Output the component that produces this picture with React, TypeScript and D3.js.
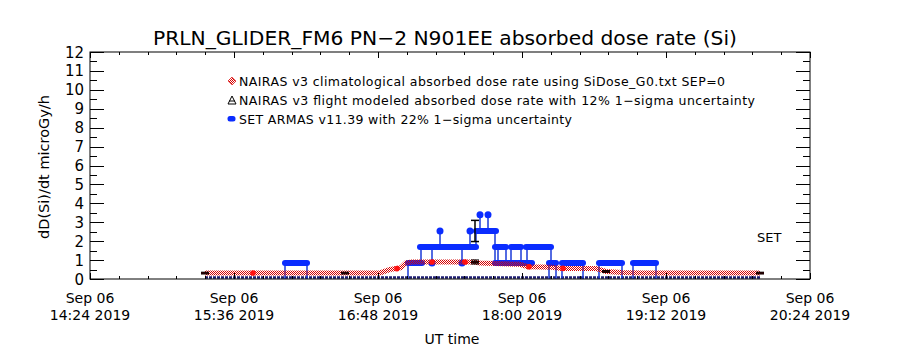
import * as d3 from "d3";

const DAY = "2019-09-06";
const TITLE = "PRLN_GLIDER_FM6 PN\u22122 N901EE absorbed dose rate (Si)";
const Y_LABEL = "dD(Si)/dt microGy/h";
const X_LABEL = "UT time";
const Y_TICKS = [0, 1, 2, 3, 4, 5, 6, 7, 8, 9, 10, 11, 12];
const X_TICKS = ["14:24", "15:36", "16:48", "18:00", "19:12", "20:24"];
const LEGEND = [
  "NAIRAS v3 climatological absorbed dose rate using SiDose_G0.txt SEP=0",
  "NAIRAS v3 flight modeled absorbed dose rate with 12% 1\u2212sigma uncertainty",
  "SET ARMAS v11.39 with 22% 1\u2212sigma uncertainty",
];
const LEGEND_WIDTHS = [486, 516, 333];

// NAIRAS climatological (checkered red band)
const climTimes = ["15:21:30", "16:49:00", "16:54:00", "16:59:30", "17:02:00", "17:05:00", "17:36:00", "17:39:00", "17:46:00", "17:59:00", "18:03:00", "18:15:00", "18:20:00", "18:37:00", "18:42:00", "18:50:00", "19:00:00", "19:59:00"];
const climValues = [0.32, 0.32, 0.5, 0.6, 0.85, 0.9, 0.9, 0.85, 0.82, 0.78, 0.65, 0.62, 0.56, 0.55, 0.4, 0.35, 0.32, 0.32];
const climDotTimes = ["15:45:30", "16:57:30", "17:15:00", "17:31:30", "18:03:30", "18:20:30"];
const climDotValues = [0.32, 0.55, 0.9, 0.9, 0.65, 0.56];

// NAIRAS flight modeled
const modelTimes = ["15:21:30", "16:31:30", "17:36:30", "18:42:00", "19:59:00"];
const modelValues = [0.32, 0.32, 0.9, 0.4, 0.32];

// SET ARMAS
const setStart = ["16:01:30", "17:03:00", "17:09:00", "17:37:00", "17:46:30", "17:54:30", "18:02:00", "17:46:30", "17:58:00", "18:13:30", "18:20:00", "18:38:30", "18:55:30"];
const setEnd = ["16:12:30", "17:10:00", "17:37:00", "17:47:00", "17:52:00", "17:59:30", "18:14:30", "17:57:30", "18:05:00", "18:17:00", "18:30:30", "18:50:00", "19:07:00"];
const setValues = [0.85, 0.85, 1.69, 2.54, 1.69, 1.69, 1.69, 0.85, 0.85, 0.85, 0.85, 0.85, 0.85];
const setDotTimes = ["17:15:00", "17:19:00", "17:30:00", "17:34:00", "17:39:00", "17:43:00"];
const setDotValues = [0.85, 2.54, 0.85, 2.54, 3.39, 3.39];
const setLinkTimes = ["16:01:30", "16:12:30", "17:03:00", "17:09:30", "17:15:00", "17:19:00", "17:30:00", "17:34:00", "17:37:00", "17:39:00", "17:43:00", "17:46:30", "17:48:00", "17:52:00", "17:54:30", "17:59:30", "18:02:30", "18:14:30", "18:13:30", "18:17:00", "18:20:00", "18:30:30", "18:38:30", "18:50:00", "18:55:30", "19:07:00"];
const setLinkFrom = [0.85, 0.85, 0.85, 1.69, 1.69, 2.54, 1.69, 2.54, 2.54, 3.39, 3.39, 2.54, 1.69, 1.69, 1.69, 1.69, 1.69, 1.69, 0.85, 0.85, 0.85, 0.85, 0.85, 0.85, 0.85, 0.85];
const setLinkTo = [0, 0, 0, 0.85, 0.85, 1.69, 0.85, 1.69, 1.69, 2.54, 2.54, 0.85, 0.85, 0.85, 0.85, 0.85, 0.85, 0.85, 0, 0, 0, 0, 0, 0, 0, 0];
const setErrTime = "17:36:30";
const setErrValue = 2.54;
const setErrSigma = 0.56;
const setBaseStart = "15:21:30";
const setBaseEnd = "19:59:00";

const parse = d3.utcParse("%Y-%m-%d %H:%M:%S");
const t = (s: string) => parse(`${DAY} ${s.length === 5 ? s + ":00" : s}`)!;

const LEFT = 90;
const RIGHT = 810;
const TOP = 52;
const BOTTOM = 279;
const FONT = "DejaVu Sans, sans-serif";
const RED = "#d80000";
const BLUE = "#0a2cff";

export default function App() {
  const x = d3.scaleUtc().domain([t("14:24"), t("20:24")]).range([LEFT, RIGHT]);
  const y = d3.scaleLinear().domain([0, 12]).range([BOTTOM, TOP]);

  const step = (x.domain()[1].getTime() - x.domain()[0].getTime()) / 25;
  const minorX = d3.range(0, 26).map((i) => x(new Date(x.domain()[0].getTime() + i * step)));
  const majorX = X_TICKS.map((s) => x(t(s)));
  const minorY = d3.range(0, 12.01, 0.5);

  const climLine = d3
    .line<number>()
    .x((i) => x(t(climTimes[i])))
    .y((i) => y(climValues[i]))(d3.range(climTimes.length));

  return (
    <div style={{ position: "absolute", left: 0, top: 0 }}>
      <svg width={900} height={350} style={{ background: "#fff", display: "block" }} fontFamily={FONT}>
        <defs>
          <pattern id="checker" width={2} height={2} patternUnits="userSpaceOnUse">
            <rect x={0} y={0} width={1} height={1} fill={RED} />
            <rect x={1} y={1} width={1} height={1} fill={RED} />
          </pattern>
        </defs>

        {/* title */}
        <text x={445} y={45} textAnchor="middle" fontSize={20} textLength={584} lengthAdjust="spacingAndGlyphs">
          {TITLE}
        </text>

        {/* SET ARMAS baseline */}
        <line
          x1={x(t(setBaseStart))}
          x2={x(t(setBaseEnd))}
          y1={y(0) - 1.5}
          y2={y(0) - 1.5}
          stroke="#1c1c70"
          strokeWidth={2.5}
          strokeDasharray="3 1"
        />

        {/* SET ARMAS links */}
        {setLinkTimes.map((s, i) => (
          <line
            key={"l" + i}
            x1={x(t(s))}
            x2={x(t(s))}
            y1={y(setLinkFrom[i])}
            y2={y(setLinkTo[i])}
            stroke="#1a3ad8"
            strokeWidth={1.5}
          />
        ))}

        {/* SET ARMAS segments */}
        {setStart.map((s, i) => (
          <line
            key={"s" + i}
            x1={x(t(s))}
            x2={x(t(setEnd[i]))}
            y1={y(setValues[i])}
            y2={y(setValues[i])}
            stroke={BLUE}
            strokeWidth={6}
            strokeLinecap="round"
          />
        ))}
        {setDotTimes.map((s, i) => (
          <circle key={"d" + i} cx={x(t(s))} cy={y(setDotValues[i])} r={3.5} fill={BLUE} />
        ))}

        {/* climatological band */}
        <path d={climLine ?? ""} fill="none" stroke="url(#checker)" strokeWidth={5} />
        {climDotTimes.map((s, i) => (
          <circle key={"c" + i} cx={x(t(s))} cy={y(climDotValues[i])} r={2.8} fill="#ff1010" />
        ))}

        {/* SET error bar */}
        {(() => {
          const cx = x(t(setErrTime));
          const y1 = y(setErrValue + setErrSigma);
          const y2 = y(setErrValue - setErrSigma);
          return (
            <g stroke="#000" strokeWidth={1.5}>
              <line x1={cx} x2={cx} y1={y1} y2={y2} />
              <line x1={cx - 4} x2={cx + 4} y1={y1} y2={y1} />
              <line x1={cx - 4} x2={cx + 4} y1={y2} y2={y2} />
            </g>
          );
        })()}

        {/* flight modeled */}
        {modelTimes.map((s, i) => {
          const cx = x(t(s));
          const v = modelValues[i];
          const y1 = y(v * 1.12);
          const y2 = y(v * 0.88);
          return (
            <g key={"m" + i} stroke="#000" strokeWidth={1}>
              <line x1={cx} x2={cx} y1={y1} y2={y2} />
              <line x1={cx - 4} x2={cx + 4} y1={y1} y2={y1} />
              <line x1={cx - 4} x2={cx + 4} y1={y2} y2={y2} />
              <rect x={cx - 4} y={y(v) - 1} width={8} height={2.5} fill="#200000" stroke="none" />
            </g>
          );
        })}

        {/* frame */}
        <rect x={LEFT} y={TOP} width={RIGHT - LEFT} height={BOTTOM - TOP} fill="none" stroke="#000" strokeWidth={1} />

        {/* y ticks */}
        {minorY.map((v) => {
          const len = Number.isInteger(v) ? 14 : 7;
          return (
            <g key={"y" + v} stroke="#000" strokeWidth={1}>
              <line x1={LEFT} x2={LEFT + len} y1={Math.round(y(v)) + 0.5} y2={Math.round(y(v)) + 0.5} />
              <line x1={RIGHT} x2={RIGHT - len} y1={Math.round(y(v)) + 0.5} y2={Math.round(y(v)) + 0.5} />
            </g>
          );
        })}
        {Y_TICKS.map((v) => (
          <text key={"yl" + v} x={84} y={y(v) + 5.5} textAnchor="end" fontSize={15}>
            {v}
          </text>
        ))}

        {/* x ticks */}
        {minorX.map((px, i) => (
          <g key={"xm" + i} stroke="#000" strokeWidth={1}>
            <line x1={Math.round(px) + 0.5} x2={Math.round(px) + 0.5} y1={BOTTOM} y2={BOTTOM - 3} />
            <line x1={Math.round(px) + 0.5} x2={Math.round(px) + 0.5} y1={TOP} y2={TOP + 3} />
          </g>
        ))}
        {majorX.map((px, i) => (
          <g key={"xM" + i}>
            <line x1={Math.round(px) + 0.5} x2={Math.round(px) + 0.5} y1={BOTTOM} y2={BOTTOM - 6} stroke="#000" />
            <line x1={Math.round(px) + 0.5} x2={Math.round(px) + 0.5} y1={TOP} y2={TOP + 6} stroke="#000" />
            <text x={px} y={303} textAnchor="middle" fontSize={14}>
              {d3.utcFormat("%b %d")(t(X_TICKS[i]))}
            </text>
            <text x={px} y={320} textAnchor="middle" fontSize={14}>
              {d3.utcFormat("%H:%M %Y")(t(X_TICKS[i]))}
            </text>
          </g>
        ))}

        {/* axis titles */}
        <text x={452} y={344} textAnchor="middle" fontSize={14}>
          {X_LABEL}
        </text>
        <text transform="translate(49,167) rotate(-90)" textAnchor="middle" fontSize={14.5}>
          {Y_LABEL}
        </text>

        {/* legend */}
        <g fontSize={12.5}>
          <path d="M232,77 L236,81 L232,85 L228,81 Z" fill="url(#checker)" stroke={RED} strokeWidth={0.6} />
          <text x={239} y={85.5} textLength={LEGEND_WIDTHS[0]} lengthAdjust="spacing">{LEGEND[0]}</text>
          <path d="M232,96 L236,104 L228,104 Z" fill="none" stroke="#000" strokeWidth={1} />
          <line x1={229} x2={235} y1={101} y2={101} stroke="#000" strokeWidth={1} />
          <text x={239} y={104.5} textLength={LEGEND_WIDTHS[1]} lengthAdjust="spacing">{LEGEND[1]}</text>
          <rect x={227.5} y={116} width={8} height={5.5} rx={2.5} fill={BLUE} />
          <text x={239} y={123.5} textLength={LEGEND_WIDTHS[2]} lengthAdjust="spacing">{LEGEND[2]}</text>
        </g>

        <text x={757} y={242} fontSize={13}>
          SET
        </text>
      </svg>
    </div>
  );
}
